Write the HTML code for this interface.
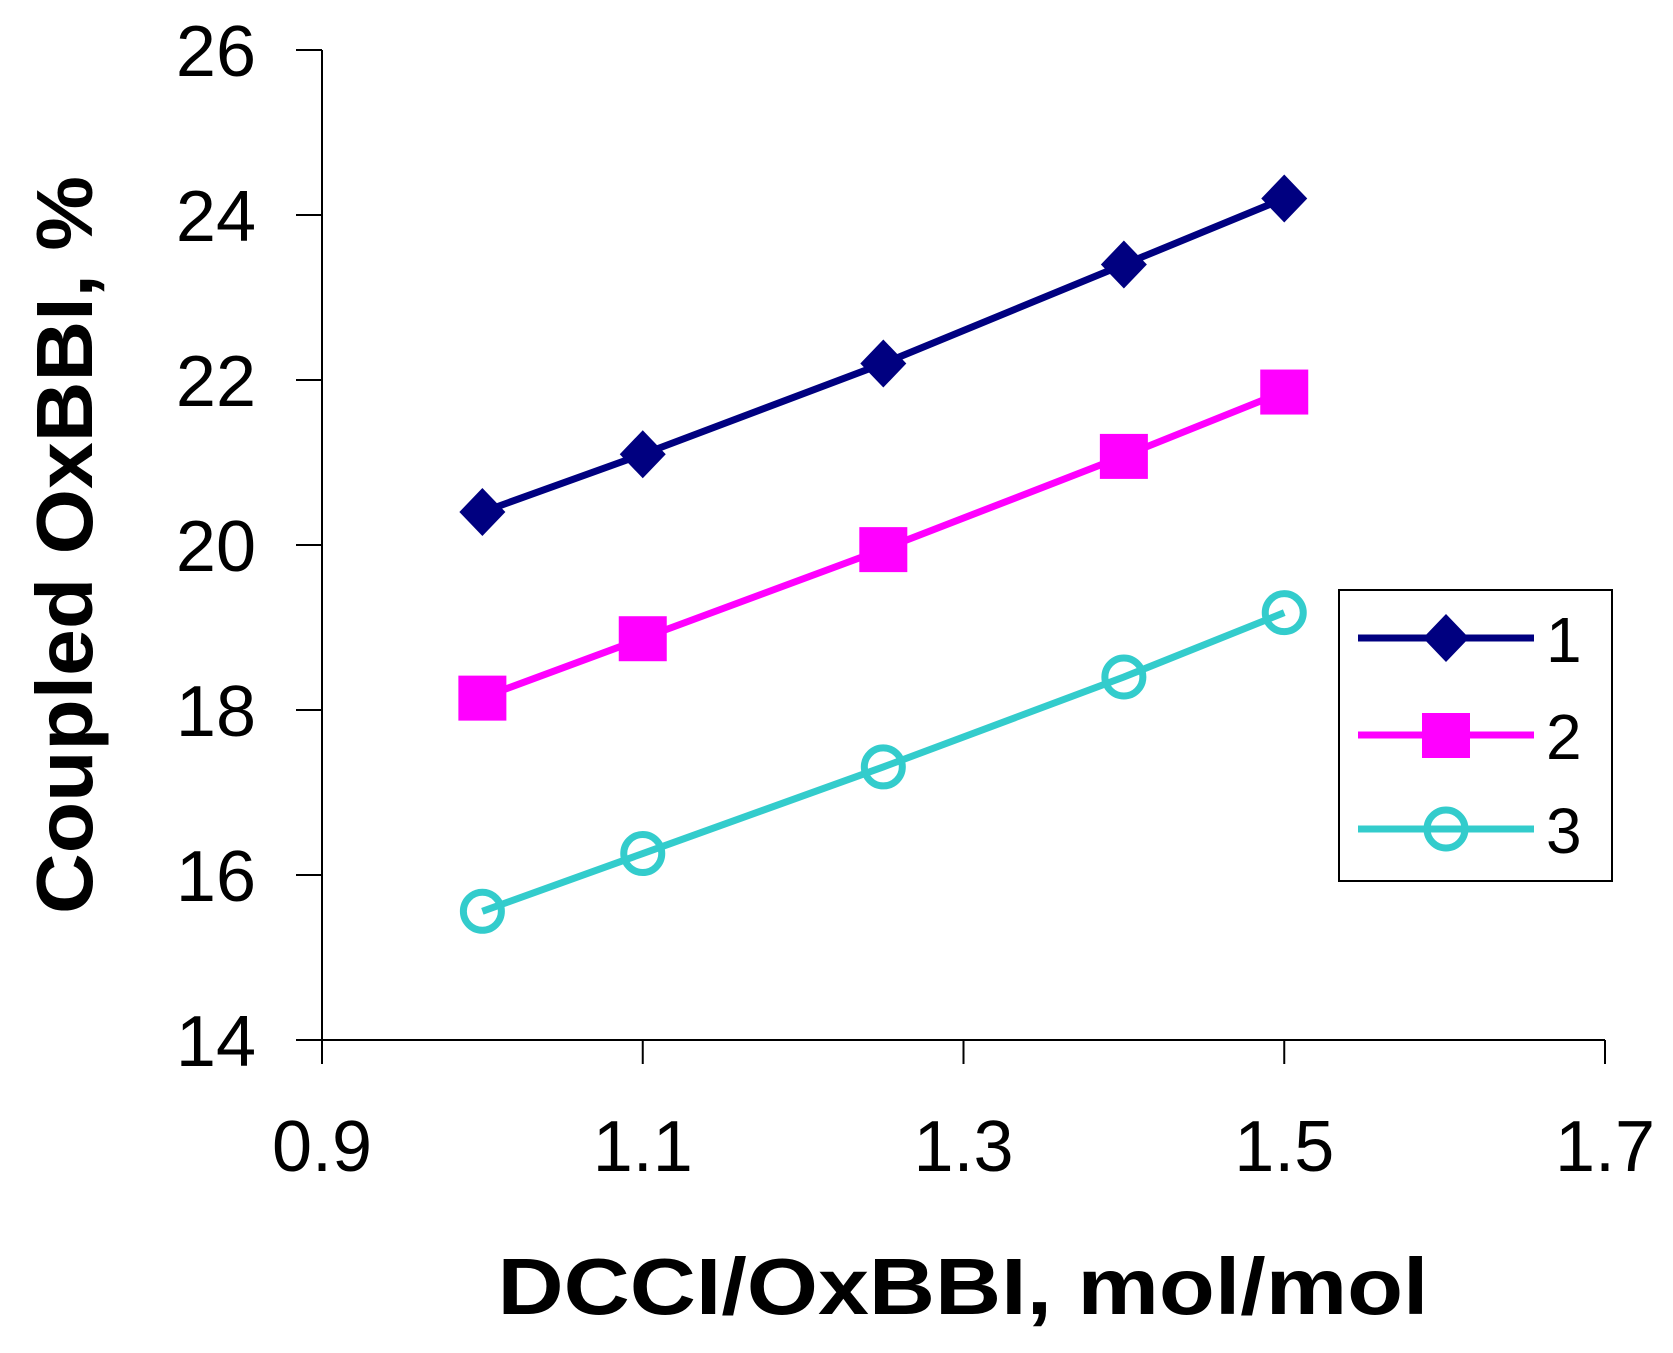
<!DOCTYPE html>
<html><head><meta charset="utf-8"><style>
html,body{margin:0;padding:0;background:#fff;}
svg{display:block;font-family:"Liberation Sans",Arial,sans-serif;}
</style></head><body>
<svg id="chart" width="1673" height="1353" viewBox="0 0 1673 1353">
<rect width="1673" height="1353" fill="#fff"/>
<g id="axes"></g>
<g id="series"></g>
<text x="963" y="1314" font-size="80" font-weight="bold" text-anchor="middle" textLength="931" lengthAdjust="spacingAndGlyphs">DCCI/OxBBI, mol/mol</text>
<text transform="translate(92,545) rotate(-90)" font-size="80" font-weight="bold" text-anchor="middle" textLength="738" lengthAdjust="spacingAndGlyphs">Coupled OxBBI, %</text>
<g id="legend">
<rect x="1339" y="590" width="273" height="291" fill="#fff" stroke="#000" stroke-width="2"/>
</g>
</svg>
<script>
const xValues=[1.0,1.1,1.25,1.4,1.5];
const series1=[20.4,21.1,22.2,23.4,24.2];
const series2=[18.15,18.87,19.95,21.08,21.86];
const series3=[15.56,16.26,17.31,18.4,19.18];
const seriesNames=['1','2','3'];
const xTicks=[0.9,1.1,1.3,1.5,1.7];
const yTicks=[14,16,18,20,22,24,26];
const NS='http://www.w3.org/2000/svg';
const X0=322,X1=1605,Y0=1040,Y1=50;
const xs=v=>X0+(v-0.9)/0.8*(X1-X0);
const ys=v=>Y0-(v-14)/12*(Y0-Y1);
function mk(tag,attrs,parent){const e=document.createElementNS(NS,tag);for(const k in attrs)e.setAttribute(k,attrs[k]);parent.appendChild(e);return e;}
const axes=document.getElementById('axes');
let a=mk('line',{x1:X0,y1:Y1,x2:X0,y2:Y0,stroke:'#000','stroke-width':2},axes);


a=mk('line',{x1:X0,y1:Y0,x2:X1,y2:Y0,stroke:'#000','stroke-width':2},axes);


yTicks.forEach(t=>{
 const y=ys(t);
 const l=mk('line',{x1:296,y1:y,x2:X0,y2:y,stroke:'#000','stroke-width':2},axes);
 
 
 const tx=mk('text',{x:256,y:y+26,'font-size':72,'text-anchor':'end'},axes);
 tx.textContent=t;
 
 
});
xTicks.forEach(t=>{
 const x=xs(t);
 const l=mk('line',{x1:x,y1:Y0,x2:x,y2:1064,stroke:'#000','stroke-width':2},axes);
 
 
 const tx=mk('text',{x:x,y:1171,'font-size':72,'text-anchor':'middle'},axes);
 tx.textContent=t.toFixed(1);
 
 
});
const colors=['#000080','#ff00ff','#33cccc'];
const shapes=['diamond','square','circle'];
function marker(g,shape,x,y,c){
 let m;
 if(shape==='diamond')m=mk('polygon',{points:`${x},${y-24} ${x+23},${y} ${x},${y+24} ${x-23},${y}`,fill:c},g);
 else if(shape==='square')m=mk('rect',{x:x-24,y:y-22,width:48,height:45,fill:c},g);
 else m=mk('circle',{cx:x,cy:y,r:19,fill:'none',stroke:c,'stroke-width':7},g);
 return m;
}
const sg=document.getElementById('series');
[series1,series2,series3].forEach((data,i)=>{
 const g=mk('g',{},sg);
 
 
 const pl=mk('polyline',{points:data.map((v,j)=>xs(xValues[j])+','+ys(v)).join(' '),fill:'none',stroke:colors[i],'stroke-width':7},g);
 
 
 data.forEach((v,j)=>{
  const m=marker(g,shapes[i],xs(xValues[j]),ys(v),colors[i]);
  
  
 });
});
const lg=document.getElementById('legend');
const ly=[638,735,829];
seriesNames.forEach((n,i)=>{
 const g=mk('g',{},lg);
 
 
 mk('line',{x1:1358,y1:ly[i],x2:1534,y2:ly[i],stroke:colors[i],'stroke-width':7},g);
 marker(g,shapes[i],1446,ly[i],colors[i]);
 const t=mk('text',{x:1546,y:ly[i]+24,'font-size':64},g);
 t.textContent=n;
});
</script>
</body></html>
